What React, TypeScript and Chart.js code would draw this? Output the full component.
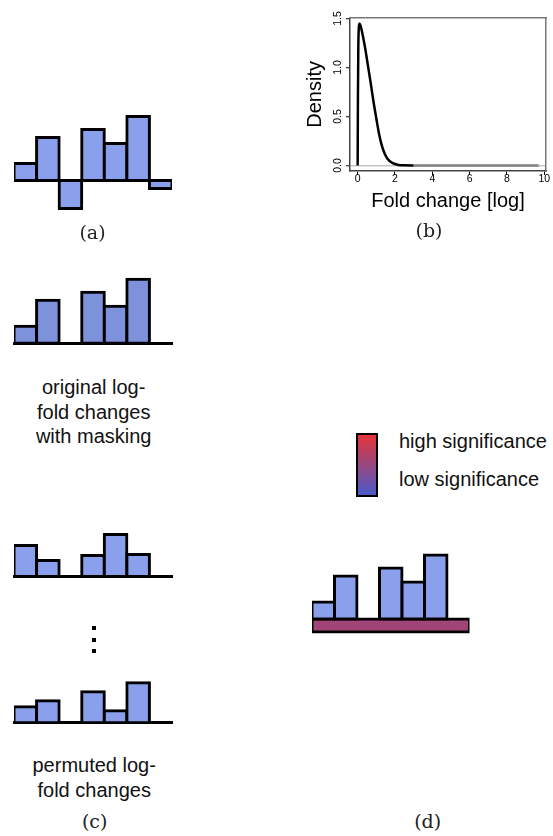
import React, { useEffect, useRef } from "react";
import { Chart, registerables } from "chart.js";

Chart.register(...registerables);

// ---------------- data ----------------
const GENE_CATEGORIES = ["g1", "g2", "g3", "g4", "g5", "g6", "g7"];
const ORIGINAL_LFC = [1.7, 4.3, -2.8, 5.1, 3.7, 6.4, -0.8];
const MASKED_LFC = [1.7, 4.3, null, 5.1, 3.7, 6.4, null];
const PERMUTED_LFC_1 = [3.1, 1.6, null, 2.1, 4.2, 2.2, null];
const PERMUTED_LFC_2 = [1.6, 2.2, null, 3.1, 1.2, 4.0, null];
const SIGNIFICANCE_CATEGORY = ["significance"];
const SIGNIFICANCE_BAND = [[-1.3, 0]];
const SIGNIFICANCE_LEVEL = 0.56; // 0 = low (blue) … 1 = high (red)

const DENSITY_X = [0, 0.015, 0.035, 0.06, 0.09, 0.15, 0.25, 0.4, 0.55, 0.7, 0.85, 1.0, 1.15, 1.3, 1.45, 1.6, 1.8, 2.0, 2.2, 2.5, 3.0, 4.0, 6.0, 8.0, 9.7];
const DENSITY_Y = [0, 0.7, 1.2, 1.4, 1.45, 1.43, 1.35, 1.2, 1.02, 0.84, 0.65, 0.48, 0.32, 0.2, 0.12, 0.07, 0.033, 0.015, 0.006, 0.002, 0.0005, 0, 0, 0, 0];

// ---------------- styles ----------------
const SANS = '"Liberation Sans", Arial, sans-serif';
const SERIF = '"DejaVu Serif", serif';
const BAR_BLUE = "#8aa0ec";
const MASK_BLUE = "#7e92dc";
const HIGH_RGB = [229, 52, 58];
const LOW_RGB = [74, 90, 200];

Chart.defaults.font.family = SANS;

function mix(t: number) {
  const c = LOW_RGB.map((l, i) => Math.round(l + t * (HIGH_RGB[i] - l)));
  return `rgb(${c[0]},${c[1]},${c[2]})`;
}

function ChartCanvas({ left, top, width, height, make }: any) {
  const ref = useRef<HTMLCanvasElement | null>(null);
  useEffect(() => {
    const chart = new Chart(ref.current as HTMLCanvasElement, make());
    return () => chart.destroy();
  }, []);
  return (
    <canvas
      ref={ref}
      width={width}
      height={height}
      style={{ position: "absolute", left, top, width, height, display: "block" }}
    />
  );
}

function barConfig(values: any[], pad: any, yMin: number, yMax: number, color: string, baseline: boolean, band: boolean) {
  const datasets: any[] = [
    {
      type: "bar",
      data: values,
      xAxisID: "x",
      yAxisID: "y",
      grouped: false,
      backgroundColor: color,
      borderColor: "#000",
      borderWidth: 3,
      borderSkipped: false,
      inflateAmount: 1.5,
      barPercentage: 1,
      categoryPercentage: 1,
    },
  ];
  const scales: any = {
    x: {
      type: "category",
      labels: GENE_CATEGORIES,
      display: baseline,
      offset: true,
      grid: { display: false, drawTicks: false },
      ticks: { display: false },
      border: { display: true, color: "#000", width: 3 },
      afterFit: (s: any) => {
        s.height = 0;
      },
    },
    y: { type: "linear", min: yMin, max: yMax, display: false },
  };
  if (band) {
    datasets.push({
      type: "bar",
      data: SIGNIFICANCE_BAND,
      xAxisID: "xSig",
      yAxisID: "y",
      grouped: false,
      backgroundColor: mix(SIGNIFICANCE_LEVEL),
      borderColor: "#000",
      borderWidth: 3,
      borderSkipped: false,
      inflateAmount: 1.5,
      barPercentage: 1,
      categoryPercentage: 1,
    });
    scales.xSig = { type: "category", labels: SIGNIFICANCE_CATEGORY, display: false, offset: true };
  }
  return {
    type: "bar",
    data: { datasets },
    options: {
      responsive: false,
      animation: false,
      devicePixelRatio: 1,
      events: [],
      layout: { padding: pad },
      plugins: { legend: { display: false }, tooltip: { enabled: false } },
      scales,
    },
  };
}

function densityConfig() {
  const xMin = -0.41, xMax = 10.09, yMin = -0.056, yMax = 1.508;
  return {
    type: "line",
    data: {
      datasets: [
        {
          data: DENSITY_X.map((x, i) => ({ x, y: DENSITY_Y[i] })),
          xAxisID: "x",
          yAxisID: "y",
          borderColor: "#000",
          borderWidth: 2.5,
          pointRadius: 0,
          fill: false,
          cubicInterpolationMode: "monotone",
          segment: {
            borderColor: (c: any) => (c.p0.parsed.y < 0.001 && c.p1.parsed.y < 0.001 ? "#808080" : "#000"),
          },
        },
      ],
    },
    options: {
      responsive: false,
      animation: false,
      devicePixelRatio: 1,
      events: [],
      layout: { padding: { left: 0, right: 7, top: 17.7, bottom: 0 } },
      plugins: { legend: { display: false }, tooltip: { enabled: false } },
      scales: {
        x: {
          type: "linear",
          position: "bottom",
          min: xMin,
          max: xMax,
          ticks: {
            stepSize: 2,
            includeBounds: false,
            autoSkip: false,
            maxRotation: 0,
            color: "#000",
            padding: -1,
            font: { family: SANS, size: 10.5, lineHeight: 1 },
            callback: (v: any) => String(v),
          },
          grid: { display: true, drawOnChartArea: false, drawTicks: true, tickLength: 4, color: "#000", tickColor: "#000", lineWidth: 1 },
          border: { display: true, color: "#444", width: 1.5 },
          title: { display: true, text: "Fold change [log]", color: "#000", font: { family: SANS, size: 20 }, padding: { top: 0, bottom: 2 } },
          afterFit: (s: any) => {
            s.height = 44;
          },
        },
        y: {
          type: "linear",
          position: "left",
          min: yMin,
          max: yMax,
          ticks: {
            stepSize: 0.5,
            includeBounds: false,
            autoSkip: false,
            minRotation: 90,
            maxRotation: 90,
            crossAlign: "center",
            padding: 1,
            color: "#000",
            font: { family: SANS, size: 10.5, lineHeight: 1 },
            callback: (v: any) => Number(v).toFixed(1),
          },
          grid: {
            display: true,
            drawOnChartArea: true,
            drawTicks: true,
            tickLength: 4,
            lineWidth: 1.5,
            tickWidth: 1,
            color: (c: any) => (c.tick && c.tick.value === 0 ? "#c6c6c6" : "rgba(0,0,0,0)"),
            tickColor: "#000",
          },
          border: { display: true, color: "#444", width: 1.5 },
          title: { display: true, text: "Density", color: "#000", font: { family: SANS, size: 20 }, padding: { top: 13, bottom: 0 } },
          afterFit: (s: any) => {
            s.width = 60;
          },
        },
        x2: {
          type: "linear",
          position: "top",
          min: xMin,
          max: xMax,
          grid: { display: false, drawTicks: false },
          ticks: { display: false },
          border: { display: true, color: "#777", width: 1.5 },
          afterFit: (s: any) => {
            s.height = 0;
          },
        },
        y2: {
          type: "linear",
          position: "right",
          min: yMin,
          max: yMax,
          grid: { display: false, drawTicks: false },
          ticks: { display: false },
          border: { display: true, color: "#777", width: 1.5 },
          afterFit: (s: any) => {
            s.width = 0;
          },
        },
      },
    },
  };
}

const sansText: React.CSSProperties = {
  position: "absolute",
  fontFamily: SANS,
  fontSize: 20,
  color: "#111",
  whiteSpace: "nowrap",
};

function Caption({ cx, top, lines }: { cx: number; top: number; lines: string[] }) {
  return (
    <div style={{ ...sansText, left: cx, top, lineHeight: "24.5px", textAlign: "center", transform: "translateX(-50%)" }}>
      {lines.map((l, i) => (
        <div key={i}>{l}</div>
      ))}
    </div>
  );
}

function PanelLabel({ cx, cy, text }: { cx: number; cy: number; text: string }) {
  return (
    <div
      style={{
        position: "absolute",
        left: cx,
        top: cy,
        transform: "translate(-50%, -50%)",
        fontFamily: SERIF,
        fontSize: 19,
        lineHeight: "19px",
        color: "#222",
        whiteSpace: "nowrap",
      }}
    >
      {text}
    </div>
  );
}

export default function App() {
  return (
    <div style={{ position: "absolute", left: 0, top: 0, width: 553, height: 836, background: "#fff", overflow: "hidden" }}>
      {/* (a) original log-fold changes */}
      <ChartCanvas
        left={0}
        top={100}
        width={190}
        height={125}
        make={() => barConfig(ORIGINAL_LFC, { left: 14, right: 18, top: 10.5, bottom: 9.5 }, -3.5, 7.0, BAR_BLUE, false, false)}
      />
      <PanelLabel cx={92.5} cy={232} text="(a)" />

      {/* (b) density */}
      <ChartCanvas left={290} top={0} width={263} height={215} make={densityConfig} />
      <PanelLabel cx={429} cy={230} text="(b)" />

      {/* masked */}
      <ChartCanvas
        left={0}
        top={265}
        width={190}
        height={85}
        make={() => barConfig(MASKED_LFC, { left: 14, right: 18, top: 8.2, bottom: 6.8 }, 0, 7.0, MASK_BLUE, true, false)}
      />
      <Caption cx={93.7} top={375} lines={["original log-", "fold changes", "with masking"]} />

      {/* (c) permuted */}
      <ChartCanvas
        left={0}
        top={520}
        width={190}
        height={62}
        make={() => barConfig(PERMUTED_LFC_1, { left: 14, right: 18, top: 8.5, bottom: 5.5 }, 0, 4.8, BAR_BLUE, true, false)}
      />
      <div style={{ position: "absolute", left: 92.3, top: 626, width: 4, display: "flex", flexDirection: "column", gap: 7.5 }}>
        <div style={{ width: 4, height: 4, background: "#000" }} />
        <div style={{ width: 4, height: 4, background: "#000" }} />
        <div style={{ width: 4, height: 4, background: "#000" }} />
      </div>
      <ChartCanvas
        left={0}
        top={670}
        width={190}
        height={58}
        make={() => barConfig(PERMUTED_LFC_2, { left: 14, right: 18, top: 7.8, bottom: 5.2 }, 0, 4.5, BAR_BLUE, true, false)}
      />
      <Caption cx={94.2} top={753.4} lines={["permuted log-", "fold changes"]} />
      <PanelLabel cx={94.7} cy={821} text="(c)" />

      {/* (d) significance */}
      <div
        style={{
          position: "absolute",
          left: 355.7,
          top: 433.3,
          width: 22.6,
          height: 64,
          boxSizing: "border-box",
          border: "2px solid #000",
          background: `linear-gradient(to bottom, ${mix(1)}, ${mix(0)})`,
        }}
      />
      <div style={{ ...sansText, left: 399, top: 430.8, lineHeight: "20px" }}>high significance</div>
      <div style={{ ...sansText, left: 399, top: 469.4, lineHeight: "20px" }}>low significance</div>
      <ChartCanvas
        left={290}
        top={540}
        width={200}
        height={100}
        make={() => barConfig(MASKED_LFC, { left: 22, right: 20.5, top: 9, bottom: 6 }, -1.5, 7.0, BAR_BLUE, false, true)}
      />
      <PanelLabel cx={427.7} cy={821} text="(d)" />
    </div>
  );
}
